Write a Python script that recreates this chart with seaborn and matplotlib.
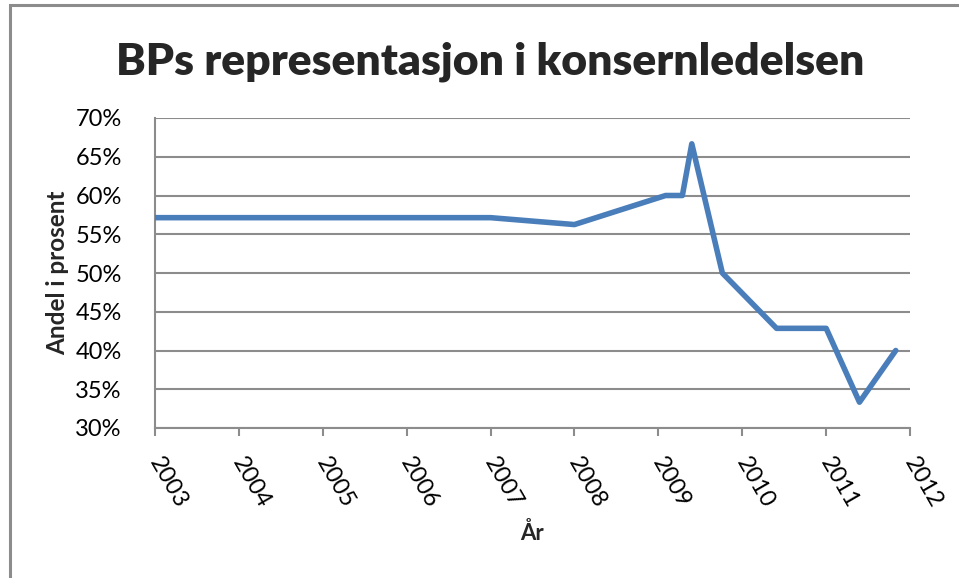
import pandas as pd
import matplotlib
matplotlib.use("Agg")
import matplotlib.pyplot as plt
import matplotlib.transforms as mtransforms
from matplotlib.patches import Rectangle
from matplotlib.ticker import FuncFormatter
import seaborn as sns

# data
datoer = ["2003-01-01", "2004-01-01", "2005-01-01", "2006-01-01", "2007-01-01",
          "2008-01-01", "2009-02-01", "2009-04-15", "2009-05-26", "2009-10-06",
          "2010-05-30", "2011-01-01", "2011-05-26", "2011-10-31"]
andel = [57.14, 57.14, 57.14, 57.14, 57.14,
         56.25, 60.0, 60.0, 66.67, 50.0,
         42.86, 42.86, 33.33, 40.0]
aar = list(range(2003, 2013))
y_ticks = list(range(30, 75, 5))

df = pd.DataFrame({"dato": pd.to_datetime(datoer), "andel": andel})

sns.set_theme(style="white")
plt.rcParams["font.family"] = ["Lato", "DejaVu Sans"]

fig = plt.figure(figsize=(9.59, 5.78), dpi=100)
ax = fig.add_axes([155 / 959, 1 - 428 / 578, (910 - 155) / 959, (428 - 118) / 578])

grey = "#8C8C8C"
sns.lineplot(data=df, x="dato", y="andel", ax=ax, color="#4A7EBB",
             linewidth=4, solid_joinstyle="round", solid_capstyle="round",
             zorder=3)

ax.set_xlim(pd.Timestamp("2003-01-01"), pd.Timestamp("2012-01-01"))
ax.set_ylim(30, 70)
ax.set_yticks(y_ticks)
ax.yaxis.set_major_formatter(FuncFormatter(lambda v, p: f"{v:.0f}%"))
ax.set_xticks([pd.Timestamp(f"{a}-01-01") for a in aar])
ax.set_xticklabels([str(a) for a in aar], rotation=-60, ha="left")

ax.grid(axis="y", color=grey, linewidth=1.5)
ax.grid(axis="x", visible=False)
for side in ["top", "right"]:
    ax.spines[side].set_visible(False)
for side in ["left", "bottom"]:
    ax.spines[side].set_color(grey)
    ax.spines[side].set_linewidth(1.5)

ax.tick_params(axis="x", bottom=True, length=6, width=1.5, color=grey,
               pad=12, labelsize=17, labelcolor="black")
ax.tick_params(axis="y", left=False, pad=18, labelsize=17, labelcolor="black")

shift = mtransforms.ScaledTranslation(-10 / 100, 0, fig.dpi_scale_trans)
for lbl in ax.get_xticklabels():
    lbl.set_transform(lbl.get_transform() + shift)

ax.set_xlabel("År", fontsize=16, fontweight="bold", labelpad=8)
ax.set_ylabel("Andel i prosent", fontsize=17.5, fontweight="bold", labelpad=4)

fig.text(490 / 959, 1 - 75 / 578, "BPs representasjon i konsernledelsen",
         ha="center", va="baseline", fontsize=32, fontweight="heavy")

# outer chart frame
fig.add_artist(Rectangle((10 / 959, -0.1), 1.2, 1.1 - 5 / 578,
                         transform=fig.transFigure, fill=False,
                         edgecolor=grey, linewidth=2.2))

fig.savefig("out.png", dpi=100)
